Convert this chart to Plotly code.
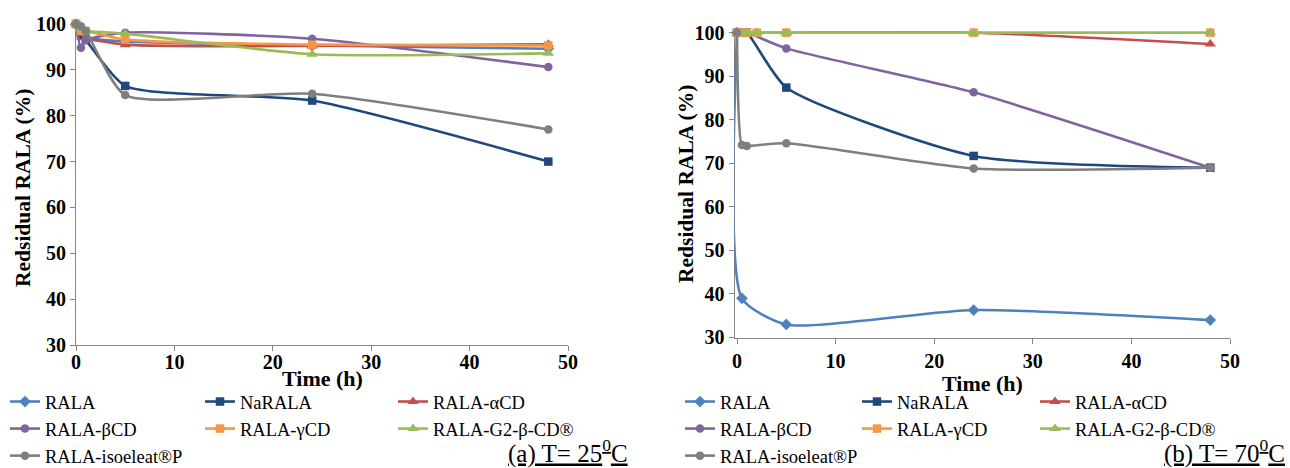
import plotly.graph_objects as go

# ---------------- data ----------------
series_names = ["RALA", "NaRALA", "RALA-αCD", "RALA-βCD", "RALA-γCD", "RALA-G2-β-CD®", "RALA-isoeleat®P"]

time_25 = [0, 0.5, 1, 5, 24, 48]
rala_25 = [100, 98, 97, 96.2, 95.3, 94.6]
narala_25 = [100, 97.5, 96.5, 86.5, 83.3, 70]
acd_25 = [100, 98, 97, 95.5, 95.2, 95.6]
bcd_25 = [100, 94.8, 96.5, 98.1, 96.8, 90.6]
gcd_25 = [100, 98.5, 98.5, 96.6, 95.5, 95.3]
g2_25 = [100, 99, 98.5, 97.9, 93.4, 93.6]
iso_25 = [100, 99.5, 98.5, 84.5, 84.8, 77]

time_70 = [0, 0.5, 1, 2, 5, 24, 48]
rala_70 = [100, 39, None, None, 33, 36.3, 34]
narala_70 = [100, 100, 100, None, 87.4, 71.7, 69]
acd_70 = [100, 100, 100, 100, 100, 100, 97.4]
bcd_70 = [100, 100, 100, None, 96.4, 86.3, 69]
gcd_70 = [100, 100, 100, 100, 100, 100, 100]
g2_70 = [100, 100, 100, 100, 100, 100, 100]
iso_70 = [100, 74.2, 74, None, 74.6, 68.8, 69]

x_ticks = [0, 10, 20, 30, 40, 50]
y_ticks = [30, 40, 50, 60, 70, 80, 90, 100]

# ---------------- styles ----------------
colors = ["#4F81BD", "#1F497D", "#C0504D", "#8064A2", "#F79646", "#9BBB59", "#7F7F7F"]
symbols = ["diamond", "square", "triangle-up", "circle", "square", "triangle-up", "circle"]
msizes = [9, 8.5, 10, 8.5, 8.5, 10, 8.5]
legend_col = [0, 1, 2, 0, 1, 2, 0]   # Excel-style 3-column legend

W, H = 1290, 468
serif = "Liberation Serif"

fig = go.Figure()

panels = [
    (time_25, [rala_25, narala_25, acd_25, bcd_25, gcd_25, g2_25, iso_25], "x", "y", ["legend", "legend2", "legend3"]),
    (time_70, [rala_70, narala_70, acd_70, bcd_70, gcd_70, g2_70, iso_70], "x2", "y2", ["legend4", "legend5", "legend6"]),
]
for t, vals, xa, ya, lgs in panels:
    for i, v in enumerate(vals):
        fig.add_trace(go.Scatter(
            x=t, y=v, name=series_names[i], xaxis=xa, yaxis=ya, legend=lgs[legend_col[i]],
            mode="lines+markers", connectgaps=True, cliponaxis=False,
            line=dict(color=colors[i], width=2.6, shape="spline", smoothing=0.6),
            marker=dict(symbol=symbols[i], size=msizes[i], color=colors[i]),
        ))

def px_x(p):
    return p / W

def px_y(p):
    return 1 - p / H

def axis_common():
    return dict(
        showgrid=False, zeroline=False, showline=True, linecolor="#868686", linewidth=1,
        ticks="outside", ticklen=5, tickcolor="#868686", layer="below traces",
        tickfont=dict(family=serif, size=20, color="black", weight="bold"),
    )

# y range slightly above 100 so lines at 100 are not clipped; domain keeps 100 at its pixel
ytop = 100.8
def ydom(p30, p100):
    per = (p30 - p100) / 70.0
    ptop = p100 - (ytop - 100) * per
    return [px_y(p30), px_y(ptop)]

xleft2 = -0.25
def xdom(p0, p50, xmin):
    per = (p50 - p0) / 50.0
    return [px_x(p0 + xmin * per), px_x(p50)]

leg_font = dict(family=serif, size=18.5, color="black")
def leg(xpix):
    return dict(orientation="v", xref="paper", yref="paper", x=px_x(xpix), y=px_y(383),
                xanchor="left", yanchor="top", font=leg_font, bgcolor="rgba(0,0,0,0)",
                tracegroupgap=0, itemwidth=30)

fig.update_layout(
    width=W, height=H,
    margin=dict(l=0, r=0, t=0, b=0, autoexpand=False),
    paper_bgcolor="white", plot_bgcolor="white",
    xaxis=dict(domain=xdom(76, 568, 0), range=[0, 50], tickvals=x_ticks, anchor="y",
               ticklabelstandoff=-6, **axis_common()),
    yaxis=dict(domain=ydom(345, 24), range=[30, ytop], tickvals=y_ticks, anchor="x", **axis_common()),
    xaxis2=dict(domain=xdom(737, 1230, xleft2), range=[xleft2, 50], tickvals=x_ticks, anchor="y2", **axis_common()),
    yaxis2=dict(domain=ydom(337.5, 32.7), range=[30, ytop], tickvals=y_ticks, anchor="x2", **axis_common()),
    legend=leg(5), legend2=leg(200), legend3=leg(393),
    legend4=leg(680), legend5=leg(857), legend6=leg(1035),
    showlegend=True,
)

title_font = dict(family=serif, size=22, color="black", weight="bold")
fig.add_annotation(text="Time (h)", x=px_x(322), y=px_y(378), xref="paper", yref="paper",
                   showarrow=False, font=title_font, xanchor="center", yanchor="middle")
fig.add_annotation(text="Time (h)", x=px_x(983), y=px_y(383), xref="paper", yref="paper",
                   showarrow=False, font=title_font, xanchor="center", yanchor="middle")
ytitle_font = dict(family=serif, size=21.5, color="black", weight="bold")
fig.add_annotation(text="Redsidual RALA (%)", x=px_x(23), y=px_y(188), xref="paper", yref="paper",
                   showarrow=False, font=ytitle_font, textangle=-90, xanchor="center", yanchor="middle")
fig.add_annotation(text="Redsidual RALA (%)", x=px_x(686), y=px_y(184), xref="paper", yref="paper",
                   showarrow=False, font=ytitle_font, textangle=-90, xanchor="center", yanchor="middle")

cap_font = dict(family=serif, size=25, color="black")
fig.add_annotation(text="<u>(a) T= 25<sup>0</sup>C</u>", x=px_x(630), y=px_y(451), xref="paper", yref="paper",
                   showarrow=False, font=cap_font, xanchor="right", yanchor="middle")
fig.add_annotation(text="<u>(b) T= 70<sup>0</sup>C</u>", x=px_x(1287), y=px_y(451), xref="paper", yref="paper",
                   showarrow=False, font=cap_font, xanchor="right", yanchor="middle")

fig.write_html("out.html")
